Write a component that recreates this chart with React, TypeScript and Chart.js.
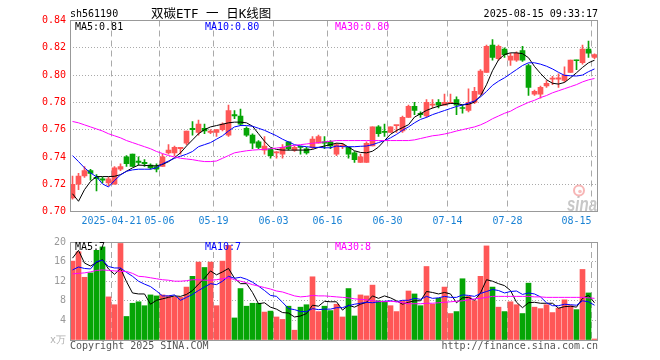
import { useEffect, useRef } from 'react';
import { Chart, registerables } from 'chart.js';

Chart.register(...registerables);

// ---------------- data ----------------
const CODE = 'sh561190';
const TITLE = '双碳ETF 一 日K线图';
const STAMP = '2025-08-15 09:33:17';
const COPYRIGHT = 'Copyright 2025 SINA.COM';
const SOURCE_URL = 'http://finance.sina.com.cn';
const UNIT_LABEL = 'x万';

const DATES = [
  '2025-04-10', '2025-04-11', '2025-04-14', '2025-04-15', '2025-04-16', '2025-04-17', '2025-04-18',
  '2025-04-21', '2025-04-22', '2025-04-23', '2025-04-24', '2025-04-25', '2025-04-28', '2025-04-29', '2025-04-30',
  '2025-05-06', '2025-05-07', '2025-05-08', '2025-05-09', '2025-05-12', '2025-05-13', '2025-05-14', '2025-05-15',
  '2025-05-16', '2025-05-19', '2025-05-20', '2025-05-21', '2025-05-22', '2025-05-23', '2025-05-26', '2025-05-27',
  '2025-05-28', '2025-05-29', '2025-05-30', '2025-06-03', '2025-06-04', '2025-06-05', '2025-06-06', '2025-06-09',
  '2025-06-10', '2025-06-11', '2025-06-12', '2025-06-13', '2025-06-16', '2025-06-17', '2025-06-18', '2025-06-19',
  '2025-06-20', '2025-06-23', '2025-06-24', '2025-06-25', '2025-06-26', '2025-06-27', '2025-06-30', '2025-07-01',
  '2025-07-02', '2025-07-03', '2025-07-04', '2025-07-07', '2025-07-08', '2025-07-09', '2025-07-10', '2025-07-11',
  '2025-07-14', '2025-07-15', '2025-07-16', '2025-07-17', '2025-07-18', '2025-07-21', '2025-07-22', '2025-07-23',
  '2025-07-24', '2025-07-25', '2025-07-28', '2025-07-29', '2025-07-30', '2025-07-31', '2025-08-01', '2025-08-04',
  '2025-08-05', '2025-08-06', '2025-08-07', '2025-08-08', '2025-08-11', '2025-08-12', '2025-08-13', '2025-08-14',
  '2025-08-15',
];

const TICK_DATES = ['2025-04-21', '2025-05-06', '2025-05-19', '2025-06-03', '2025-06-16', '2025-06-30', '2025-07-14', '2025-07-28', '2025-08-15'];
const TICK_TEXT = ['2025-04-21', '05-06', '05-19', '06-03', '06-16', '06-30', '07-14', '07-28', '08-15'];

const PRICE_TICKS = [0.70, 0.72, 0.74, 0.76, 0.78, 0.80, 0.82, 0.84];
const VOL_TICKS = [0, 4, 8, 12, 16, 20];

const OPEN = [
  0.710, 0.720, 0.726, 0.730, 0.725, 0.724, 0.721, 0.720, 0.731, 0.740,
  0.742, 0.737, 0.736, 0.734, 0.733, 0.733, 0.743, 0.743, 0.746, 0.750,
  0.761, 0.758, 0.761, 0.758, 0.758, 0.760, 0.756, 0.771, 0.770, 0.761,
  0.756, 0.751, 0.745, 0.746, 0.743, 0.742, 0.751, 0.745, 0.7475, 0.746,
  0.747, 0.750, 0.751, 0.751, 0.742, 0.748, 0.747, 0.743, 0.736, 0.736,
  0.748, 0.762, 0.7585, 0.758, 0.763, 0.759, 0.769, 0.777, 0.772, 0.770,
  0.778, 0.780, 0.778, 0.779, 0.782, 0.776, 0.774, 0.780, 0.786, 0.802,
  0.822, 0.812, 0.819, 0.811, 0.811, 0.818, 0.807, 0.786, 0.786, 0.792,
  0.797, 0.797, 0.796, 0.802, 0.811, 0.809, 0.819, 0.813,
];
const HIGH = [
  0.726, 0.728, 0.733, 0.731, 0.727, 0.725, 0.725, 0.733, 0.735, 0.741,
  0.742, 0.740, 0.738, 0.735, 0.735, 0.742, 0.749, 0.748, 0.747, 0.759,
  0.766, 0.767, 0.764, 0.760, 0.760, 0.765, 0.778, 0.774, 0.775, 0.762,
  0.757, 0.752, 0.755, 0.746, 0.744, 0.749, 0.751, 0.748, 0.748, 0.747,
  0.755, 0.756, 0.755, 0.752, 0.750, 0.750, 0.747, 0.744, 0.742, 0.751,
  0.762, 0.763, 0.764, 0.762, 0.763, 0.770, 0.778, 0.780, 0.773, 0.782,
  0.782, 0.782, 0.786, 0.786, 0.784, 0.778, 0.790, 0.791, 0.804, 0.822,
  0.826, 0.822, 0.820, 0.816, 0.817, 0.821, 0.808, 0.789, 0.792, 0.796,
  0.799, 0.801, 0.806, 0.811, 0.811, 0.822, 0.825, 0.8155,
];
const LOW = [
  0.709, 0.716, 0.725, 0.723, 0.715, 0.721, 0.719, 0.720, 0.730, 0.733,
  0.733, 0.734, 0.733, 0.731, 0.729, 0.733, 0.742, 0.741, 0.742, 0.749,
  0.756, 0.756, 0.757, 0.757, 0.755, 0.759, 0.755, 0.768, 0.763, 0.755,
  0.746, 0.746, 0.742, 0.739, 0.739, 0.739, 0.745, 0.744, 0.742, 0.742,
  0.746, 0.750, 0.746, 0.746, 0.741, 0.746, 0.739, 0.736, 0.736, 0.736,
  0.748, 0.755, 0.755, 0.758, 0.758, 0.758, 0.769, 0.771, 0.769, 0.769,
  0.776, 0.776, 0.778, 0.779, 0.771, 0.772, 0.773, 0.779, 0.786, 0.802,
  0.811, 0.811, 0.813, 0.807, 0.810, 0.810, 0.785, 0.785, 0.783, 0.791,
  0.793, 0.791, 0.795, 0.802, 0.804, 0.808, 0.813, 0.812,
];
const CLOSE = [
  0.720, 0.726, 0.730, 0.728, 0.724, 0.723, 0.724, 0.732, 0.733, 0.735,
  0.733, 0.736, 0.735, 0.732, 0.731, 0.740, 0.745, 0.747, 0.747, 0.759,
  0.760, 0.764, 0.759, 0.759, 0.760, 0.764, 0.774, 0.770, 0.764, 0.756,
  0.750, 0.747, 0.748, 0.741, 0.743, 0.747, 0.746, 0.747, 0.747, 0.743,
  0.753, 0.755, 0.750, 0.748, 0.749, 0.748, 0.742, 0.738, 0.740, 0.750,
  0.762, 0.757, 0.758, 0.762, 0.763, 0.769, 0.777, 0.774, 0.771, 0.780,
  0.778, 0.778, 0.780, 0.780, 0.778, 0.7755, 0.780, 0.788, 0.803, 0.821,
  0.813, 0.821, 0.815, 0.814, 0.816, 0.811, 0.791, 0.788, 0.791, 0.794,
  0.797, 0.798, 0.800, 0.811, 0.8105, 0.819, 0.816, 0.815,
];

const MA5 = [
  0.713, 0.7075, 0.716, 0.722, 0.7256, 0.7256, 0.7256, 0.7258, 0.727, 0.7295,
  0.732, 0.734, 0.7338, 0.7335, 0.7335, 0.7345, 0.7365, 0.7395, 0.743, 0.748,
  0.7525, 0.757, 0.760, 0.762, 0.763, 0.764, 0.765, 0.7655, 0.7655, 0.765,
  0.7625, 0.757, 0.7515, 0.747, 0.7455, 0.745, 0.745, 0.745, 0.745, 0.745,
  0.7455, 0.747, 0.748, 0.749, 0.7501, 0.7498, 0.7472, 0.7445, 0.7433, 0.743,
  0.7442, 0.7472, 0.752, 0.7566, 0.7593, 0.7615, 0.7636, 0.7692, 0.7716, 0.7741,
  0.7758, 0.7772, 0.7784, 0.7792, 0.7792, 0.7782, 0.7785, 0.7802, 0.7847, 0.7929,
  0.8032, 0.8111, 0.8151, 0.8163, 0.8163, 0.8157, 0.8127, 0.8063, 0.8012, 0.7966,
  0.794, 0.7934, 0.7946, 0.798, 0.8017, 0.8056, 0.809, 0.8109,
];
const MA10 = [
  0.741, 0.7366, 0.732, 0.7283, 0.7254, 0.7202, 0.718, 0.7227, 0.7268, 0.7295,
  0.7305, 0.731, 0.731, 0.731, 0.732, 0.735, 0.737, 0.739, 0.7405, 0.742,
  0.744, 0.7475, 0.749, 0.7505, 0.753, 0.7555, 0.759, 0.762, 0.763, 0.763,
  0.7625, 0.761, 0.7595, 0.7575, 0.7555, 0.753, 0.751, 0.749, 0.748, 0.7475,
  0.747, 0.747, 0.7467, 0.7467, 0.748, 0.7475, 0.7475, 0.7475, 0.7478, 0.748,
  0.749, 0.7505, 0.752, 0.754, 0.7565, 0.7595, 0.762, 0.765, 0.7675, 0.769,
  0.771, 0.7725, 0.774, 0.7755, 0.777, 0.778, 0.7795, 0.781, 0.784, 0.788,
  0.7925, 0.7955, 0.798, 0.801, 0.804, 0.807, 0.809, 0.809, 0.808, 0.8065,
  0.8045, 0.802, 0.7998, 0.7995, 0.7993, 0.800, 0.8025, 0.8045,
];
const MA30 = [
  0.766, 0.765, 0.7635, 0.762, 0.7605, 0.759, 0.757, 0.7555, 0.754, 0.752,
  0.7505, 0.749, 0.7475, 0.746, 0.744, 0.7425, 0.741, 0.740, 0.739, 0.7385,
  0.738, 0.7372, 0.7366, 0.7366, 0.737, 0.739, 0.741, 0.743, 0.7438, 0.7445,
  0.745, 0.7453, 0.7455, 0.746, 0.7465, 0.747, 0.748, 0.7485, 0.749, 0.7495,
  0.750, 0.7505, 0.751, 0.7515, 0.752, 0.752, 0.752, 0.752, 0.752, 0.752,
  0.752, 0.752, 0.752, 0.752, 0.752, 0.752, 0.752, 0.7525, 0.7535, 0.7545,
  0.7555, 0.756, 0.7568, 0.7578, 0.759, 0.760, 0.761, 0.762, 0.7635, 0.7655,
  0.768, 0.770, 0.772, 0.7735, 0.776, 0.778, 0.780, 0.7815, 0.7835, 0.785,
  0.787, 0.7885, 0.790, 0.7915, 0.793, 0.795, 0.7965, 0.7975,
];

const VOLUME = [
  16.1, 18.0, 12.8, 13.7, 18.3, 19.0, 8.8, 7.2, 19.7, 4.8,
  7.5, 7.8, 7.0, 9.2, 9.0, 9.2, 9.0, 8.8, 8.7, 10.8,
  13.0, 15.9, 14.8, 15.9, 7.0, 16.1, 19.3, 4.5, 10.5, 6.9,
  7.5, 7.5, 5.7, 5.9, 4.7, 4.2, 6.9, 2.0, 6.7, 7.2,
  12.9, 5.8, 6.9, 6.0, 7.3, 4.7, 10.5, 4.9, 9.2, 9.0,
  11.2, 8.0, 7.8, 7.0, 5.8, 8.0, 10.0, 9.4, 7.0, 15.0,
  7.3, 8.5, 10.8, 5.4, 5.8, 12.5, 8.9, 8.0, 13.0, 19.2,
  10.8, 6.7, 5.8, 7.8, 7.2, 5.4, 11.6, 6.7, 6.4, 7.2,
  5.6, 6.5, 8.2, 7.0, 6.2, 14.4, 9.6, 0.2,
];
const VOL_MA5 = [
  16.7, 18.3, 15.7, 15.1, 15.8, 16.4, 14.5, 13.4, 14.6, 11.9,
  9.6, 9.4, 9.4, 7.3, 8.1, 8.4, 8.7, 9.0, 8.9, 9.3,
  10.1, 11.4, 12.6, 14.1, 13.3, 13.9, 14.6, 12.6, 11.5, 11.5,
  9.7, 7.4, 7.6, 6.7, 6.3, 5.6, 5.5, 4.7, 4.9, 5.4,
  7.1, 6.9, 7.9, 7.8, 7.8, 6.1, 7.1, 6.7, 7.3, 7.7,
  9.0, 8.5, 9.0, 8.6, 8.0, 7.3, 7.7, 8.0, 8.0, 9.9,
  9.7, 9.4, 9.7, 9.4, 7.6, 8.6, 8.7, 8.1, 9.6, 12.3,
  12.0, 11.5, 11.1, 10.1, 7.7, 6.6, 7.6, 7.7, 7.5, 7.5,
  7.5, 6.5, 6.8, 6.9, 6.7, 8.5, 9.1, 7.6,
];
const VOL_MA10 = [
  14.3, 14.9, 14.6, 14.5, 16.0, 16.3, 15.0, 14.7, 14.7, 13.8,
  13.0, 12.0, 11.4, 10.9, 10.0, 9.0, 9.0, 9.2, 8.1, 8.7,
  9.3, 10.1, 10.8, 11.5, 11.3, 12.0, 13.0, 12.6, 12.8, 12.4,
  11.8, 11.0, 10.1, 9.1, 8.9, 7.7, 6.4, 6.2, 5.8, 5.8,
  6.4, 6.2, 6.3, 6.3, 6.6, 6.6, 7.0, 7.3, 7.5, 7.7,
  7.6, 7.8, 7.9, 8.0, 7.8, 8.1, 8.1, 8.5, 8.3, 8.9,
  8.5, 8.6, 8.9, 8.7, 8.7, 9.2, 9.1, 8.9, 9.5, 9.9,
  10.3, 10.1, 9.6, 9.9, 10.0, 9.3, 9.6, 9.4, 8.8, 7.6,
  7.0, 7.0, 7.3, 7.2, 7.1, 8.0, 7.8, 7.1,
];
const VOL_MA30 = [
  13.5, 13.6, 13.7, 13.9, 14.2, 14.3, 14.2, 14.1, 14.0, 14.0,
  13.6, 13.0, 12.9, 12.7, 12.5, 12.3, 12.2, 12.0, 12.0, 12.1,
  12.3, 12.3, 12.2, 12.2, 12.3, 12.5, 12.7, 12.3, 12.0, 11.7,
  11.3, 11.0, 10.7, 10.4, 10.0, 9.8, 9.4, 9.0, 8.8, 8.9,
  9.1, 9.0, 9.0, 8.9, 8.8, 8.7, 8.6, 8.4, 8.3, 8.2,
  8.0, 7.9, 7.8, 7.9, 7.8, 7.6, 7.4, 7.4, 7.4, 7.5,
  7.5, 7.6, 7.7, 7.8, 7.9, 8.0, 8.2, 8.4, 8.5, 8.7,
  8.9, 8.9, 8.9, 8.9, 8.9, 8.9, 8.9, 8.8, 8.8, 8.7,
  8.7, 8.7, 8.7, 8.7, 8.7, 8.7, 8.6, 8.5,
];

// ---------------- styles ----------------
const UP = '#ff5757';
const DOWN = '#05a505';
const MA_COLORS = ['#000000', '#0000ff', '#ff00ff'];
const GRID = '#aaaaaa';
const BORDER = '#999999';
const DATE_COLOR = '#1a82d4';
const MONO = '"DejaVu Sans Mono", monospace';
const FONT10 = `10px ${MONO}`;
// shift of 1/12 slot so 5px candle bodies sit on whole pixels
const X_MIN = 1 / 12;
const X_MAX = DATES.length + 1 / 12;

Chart.defaults.font.family = MONO;
Chart.defaults.font.size = 10;

const candleColors = OPEN.map((o, i) => (CLOSE[i] >= o ? UP : DOWN));
const pts = (arr: number[]) => arr.map((y, i) => ({ x: i + 0.5, y }));

function xScale(showLabels: boolean, height: number): any {
  return {
    type: 'linear',
    min: X_MIN,
    max: X_MAX,
    bounds: 'data',
    offset: false,
    afterBuildTicks: (s: any) => {
      s.ticks = TICK_DATES.map((d) => ({ value: DATES.indexOf(d) }));
    },
    afterFit: (s: any) => {
      s.height = height;
    },
    grid: { color: GRID, lineWidth: 1, drawTicks: false, offset: false },
    border: { display: false, dash: [6, 4] },
    ticks: {
      display: showLabels,
      autoSkip: false,
      maxRotation: 0,
      minRotation: 0,
      padding: 4,
      color: DATE_COLOR,
      font: { family: MONO, size: 10 },
      callback: (_v: any, k: number) =>
        k === TICK_TEXT.length - 1 ? TICK_TEXT[k] + '     ' : TICK_TEXT[k],
    },
  };
}

function lineSet(arr: number[], color: string): any {
  return {
    type: 'line',
    data: pts(arr),
    borderColor: color,
    borderWidth: 1,
    pointRadius: 0,
    fill: false,
    tension: 0,
    order: 0,
  };
}

function drawFrame(ctx: CanvasRenderingContext2D, a: any) {
  ctx.save();
  ctx.strokeStyle = BORDER;
  ctx.lineWidth = 1;
  ctx.setLineDash([]);
  ctx.strokeRect(
    Math.round(a.left) + 0.5,
    Math.floor(a.top) + 0.5,
    Math.round(a.right - a.left) - 1,
    Math.round(a.bottom - a.top)
  );
  ctx.restore();
}

function drawMaLabels(ctx: CanvasRenderingContext2D, texts: string[], y: number) {
  const xs = [75, 205, 335];
  ctx.save();
  ctx.font = FONT10;
  ctx.textAlign = 'left';
  ctx.textBaseline = 'alphabetic';
  texts.forEach((t, i) => {
    ctx.fillStyle = MA_COLORS[i];
    ctx.fillText(t, xs[i], y);
  });
  ctx.restore();
}

const mainDecor: any = {
  id: 'mainDecor',
  beforeDatasetsDraw(chart: any) {
    const { ctx, chartArea: a } = chart;
    // watermark
    ctx.save();
    ctx.fillStyle = '#c8c8c8';
    ctx.font = 'italic bold 15px "Liberation Sans", sans-serif';
    ctx.textAlign = 'right';
    ctx.textBaseline = 'alphabetic';
    ctx.translate(a.right - 1, a.bottom - 1);
    ctx.scale(1, 1.35);
    ctx.fillText('sina', 0, 0);
    ctx.restore();
    ctx.save();
    ctx.strokeStyle = 'rgba(240,110,110,0.5)';
    ctx.lineWidth = 2;
    ctx.beginPath();
    ctx.arc(a.right - 19, a.bottom - 21, 5, 0, Math.PI * 2);
    ctx.stroke();
    ctx.fillStyle = 'rgba(240,110,110,0.45)';
    ctx.beginPath();
    ctx.arc(a.right - 18, a.bottom - 20, 1.8, 0, Math.PI * 2);
    ctx.fill();
    ctx.restore();
  },
  afterDraw(chart: any) {
    const { ctx, chartArea: a } = chart;
    drawFrame(ctx, a);
    ctx.save();
    ctx.fillStyle = '#000';
    ctx.textBaseline = 'alphabetic';
    ctx.font = FONT10;
    ctx.textAlign = 'left';
    ctx.fillText(CODE, 70, 17);
    ctx.font = '12.5px "DejaVu Sans Mono", "Noto Sans CJK SC", sans-serif';
    ctx.fillText(TITLE, 151, 17.5);
    ctx.font = FONT10;
    ctx.textAlign = 'right';
    ctx.fillText(STAMP, 598, 17);
    ctx.restore();
    const last = DATES.length - 1;
    drawMaLabels(
      ctx,
      [
        'MA5:' + MA5[last].toFixed(2),
        'MA10:' + MA10[last].toFixed(2),
        'MA30:' + MA30[last].toFixed(2),
      ],
      29.5
    );
  },
};

const volDecor: any = {
  id: 'volDecor',
  afterDraw(chart: any) {
    const { ctx, chartArea: a } = chart;
    drawFrame(ctx, a);
    const last = DATES.length - 1;
    drawMaLabels(
      ctx,
      [
        'MA5:' + Math.floor(VOL_MA5[last]),
        'MA10:' + Math.floor(VOL_MA10[last]),
        'MA30:' + Math.floor(VOL_MA30[last]),
      ],
      18
    );
    ctx.save();
    ctx.font = FONT10;
    ctx.fillStyle = '#555';
    ctx.textBaseline = 'alphabetic';
    ctx.textAlign = 'left';
    ctx.fillText(COPYRIGHT, 70, 117);
    ctx.textAlign = 'right';
    ctx.fillText(SOURCE_URL, 598, 117);
    ctx.restore();
  },
};

function mainConfig(): any {
  return {
    type: 'bar',
    data: {
      datasets: [
        {
          type: 'bar',
          data: LOW.map((l, i) => ({ x: i + 0.5, y: [l, HIGH[i]] })),
          backgroundColor: candleColors,
          barThickness: 1,
          grouped: false,
          borderWidth: 0,
          order: 3,
        },
        {
          type: 'bar',
          data: OPEN.map((o, i) => ({ x: i + 0.5, y: [o, CLOSE[i]] })),
          backgroundColor: candleColors,
          barThickness: 5,
          grouped: false,
          borderWidth: 0,
          minBarLength: 1,
          order: 2,
        },
        lineSet(MA30, MA_COLORS[2]),
        lineSet(MA10, MA_COLORS[1]),
        lineSet(MA5, MA_COLORS[0]),
      ],
    },
    options: {
      responsive: false,
      animation: false,
      devicePixelRatio: 1,
      events: [],
      layout: { autoPadding: false, padding: { left: 0, right: 62, top: 20.5, bottom: 0 } },
      plugins: { legend: { display: false }, tooltip: { enabled: false } },
      scales: {
        x: xScale(true, 20.5),
        y: {
          type: 'linear',
          min: PRICE_TICKS[0],
          max: PRICE_TICKS[PRICE_TICKS.length - 1],
          bounds: 'data',
          beginAtZero: false,
          afterBuildTicks: (s: any) => {
            s.ticks = PRICE_TICKS.map((v) => ({ value: v }));
          },
          afterFit: (s: any) => {
            s.width = 70;
          },
          grid: { color: GRID, lineWidth: 1, drawTicks: false },
          border: { display: false, dash: [1, 2] },
          ticks: {
            color: '#ff0000',
            padding: 4,
            font: { family: MONO, size: 10 },
            callback: (v: any) => Number(v).toFixed(2),
          },
        },
      },
    },
    plugins: [mainDecor],
  };
}

function volConfig(): any {
  return {
    type: 'bar',
    data: {
      datasets: [
        {
          type: 'bar',
          data: pts(VOLUME),
          backgroundColor: candleColors,
          barThickness: 5,
          grouped: false,
          borderWidth: 0,
          order: 2,
        },
        lineSet(VOL_MA30, MA_COLORS[2]),
        lineSet(VOL_MA10, MA_COLORS[1]),
        lineSet(VOL_MA5, MA_COLORS[0]),
      ],
    },
    options: {
      responsive: false,
      animation: false,
      devicePixelRatio: 1,
      events: [],
      layout: { autoPadding: false, padding: { left: 0, right: 62, top: 8, bottom: 0 } },
      plugins: { legend: { display: false }, tooltip: { enabled: false } },
      scales: {
        x: xScale(false, 20),
        y: {
          type: 'linear',
          min: VOL_TICKS[0],
          max: VOL_TICKS[VOL_TICKS.length - 1],
          bounds: 'data',
          afterBuildTicks: (s: any) => {
            s.ticks = VOL_TICKS.map((v) => ({ value: v }));
          },
          afterFit: (s: any) => {
            s.width = 70;
          },
          grid: { color: GRID, lineWidth: 1, drawTicks: false },
          border: { display: false, dash: [1, 2] },
          ticks: {
            padding: 4,
            color: (c: any) => (c.tick && c.tick.value === 0 ? '#b0b0b0' : '#999999'),
            font: { family: MONO, size: 10 },
            callback: (v: any) => (Number(v) === 0 ? UNIT_LABEL : String(v)),
          },
        },
      },
    },
    plugins: [volDecor],
  };
}

export default function App() {
  const mainRef = useRef<HTMLCanvasElement>(null);
  const volRef = useRef<HTMLCanvasElement>(null);

  useEffect(() => {
    document.body.style.margin = '0';
    const c1 = new Chart(mainRef.current as HTMLCanvasElement, mainConfig());
    const c2 = new Chart(volRef.current as HTMLCanvasElement, volConfig());
    return () => {
      c1.destroy();
      c2.destroy();
    };
  }, []);

  return (
    <div style={{ position: 'fixed', left: 0, top: 0, width: 660, height: 360, background: '#fff' }}>
      <canvas ref={mainRef} width={660} height={232} style={{ position: 'absolute', left: 0, top: 0 }} />
      <canvas ref={volRef} width={660} height={128} style={{ position: 'absolute', left: 0, top: 232 }} />
    </div>
  );
}
